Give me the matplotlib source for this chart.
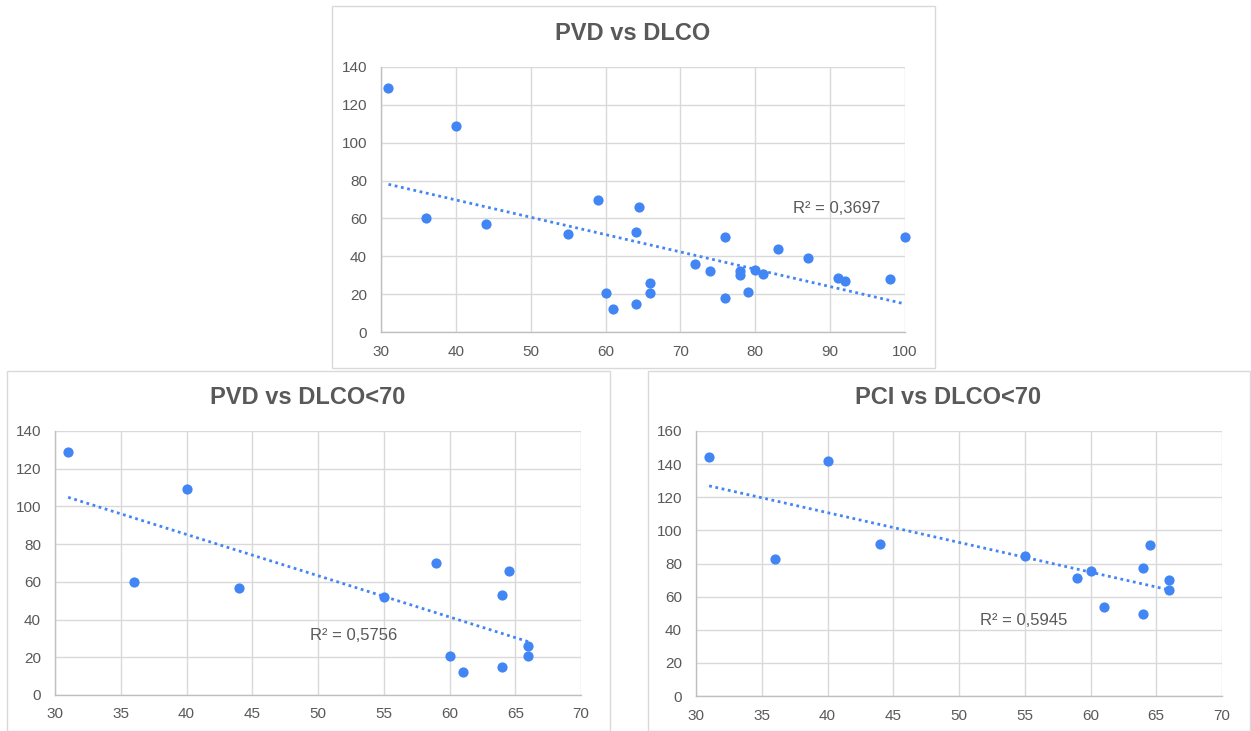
import matplotlib
matplotlib.use("Agg")
import matplotlib.pyplot as plt
from matplotlib.patches import Rectangle
import numpy as np

plt.rcParams['font.family'] = ['Liberation Sans', 'DejaVu Sans']

# ---- data ----
dlco_all = [31, 36, 40, 44, 55, 59, 60, 61, 64, 64, 64.5, 66, 66,
            72, 74, 76, 76, 78, 78, 79, 80, 81, 83, 87, 91, 92, 98, 100]
pvd_all = [129, 60, 109, 57, 52, 70, 20.5, 12, 15, 53, 66, 26, 20.5,
           36, 32, 50, 18, 32, 30, 21, 32.5, 30.5, 44, 39, 28.5, 27, 28, 50]

dlco_lt70 = [31, 36, 40, 44, 55, 59, 60, 61, 64, 64, 64.5, 66, 66]
pvd_lt70 = [129, 60, 109, 57, 52, 70, 20.5, 12, 15, 53, 66, 26, 20.5]
pci_lt70 = [144, 83, 142, 91.5, 84.5, 71, 75.5, 54, 49.5, 77, 91, 70, 64]

titles = ["PVD vs DLCO", "PVD vs DLCO<70", "PCI vs DLCO<70"]
r2_labels = ["R² = 0,3697", "R² = 0,5756", "R² = 0,5945"]
xticks_list = [[30, 40, 50, 60, 70, 80, 90, 100],
               [30, 35, 40, 45, 50, 55, 60, 65, 70],
               [30, 35, 40, 45, 50, 55, 60, 65, 70]]
yticks_list = [[0, 20, 40, 60, 80, 100, 120, 140],
               [0, 20, 40, 60, 80, 100, 120, 140],
               [0, 20, 40, 60, 80, 100, 120, 140, 160]]

W, H = 1251, 731
fig = plt.figure(figsize=(W / 100, H / 100), dpi=100)
fig.patch.set_facecolor('white')

def fx(px):
    return px / W

def fy(py):
    return 1 - py / H

# frames (pixel boxes)
frames = [(332, 6, 935, 368), (7, 371, 610, 731), (648, 371, 1250, 731)]
for (x0, y0, x1, y1) in frames:
    fig.patches.append(Rectangle((fx(x0), fy(y1)), fx(x1) - fx(x0), fy(y0) - fy(y1),
                                 transform=fig.transFigure, fill=False,
                                 edgecolor='#d9d9d9', linewidth=1.0, zorder=0))

# axes areas (pixel boxes: left, top, right, bottom)
areas = [(381, 67, 905, 332), (55, 431, 581, 695), (696, 431, 1222, 696)]
title_pos = [(633, 33), (308, 397), (948, 397)]
r2_pos = [(85.0, 65.5), (49.4, 31.8), (51.6, 45.3)]

datasets = [(dlco_all, pvd_all), (dlco_lt70, pvd_lt70), (dlco_lt70, pci_lt70)]

blue = '#4285F4'
grey_text = '#595959'
grid_c = '#d9d9d9'

for i, ((l, t, r, b), (xs, ys)) in enumerate(zip(areas, datasets)):
    ax = fig.add_axes([fx(l), fy(b), fx(r) - fx(l), fy(t) - fy(b)])
    xt = xticks_list[i]
    yt = yticks_list[i]
    ax.set_xlim(xt[0], xt[-1])
    ax.set_ylim(yt[0], yt[-1])
    ax.set_xticks(xt)
    ax.set_yticks(yt)
    ax.grid(True, color=grid_c, linewidth=1.0, zorder=0)
    ax.set_axisbelow(True)
    for s in ['top', 'right']:
        ax.spines[s].set_visible(False)
    for s in ['left', 'bottom']:
        ax.spines[s].set_color('#bfbfbf')
        ax.spines[s].set_linewidth(1.0)
    ax.tick_params(length=0, labelsize=11, labelcolor=grey_text)
    ax.tick_params(axis='y', pad=10)
    ax.tick_params(axis='x', pad=9)
    ax.patch.set_alpha(0)

    ax.scatter(xs, ys, s=54, color=blue, zorder=3, linewidths=0, clip_on=False)

    xa = np.array(xs, dtype=float)
    ya = np.array(ys, dtype=float)
    m, c = np.polyfit(xa, ya, 1)
    xl = np.array([xa.min(), xa.max()])
    ax.plot(xl, m * xl + c, color=blue, linewidth=2.0,
            linestyle=(0, (1, 1.3)), zorder=2)

    ax.text(r2_pos[i][0], r2_pos[i][1], r2_labels[i], fontsize=12,
            color=grey_text, ha='left', va='center', zorder=4)

    tx, ty = title_pos[i]
    fig.text(fx(tx), fy(ty), titles[i], fontsize=17, fontweight='bold',
             color=grey_text, ha='center', va='center')

fig.savefig('out.png', dpi=100, facecolor='white')
